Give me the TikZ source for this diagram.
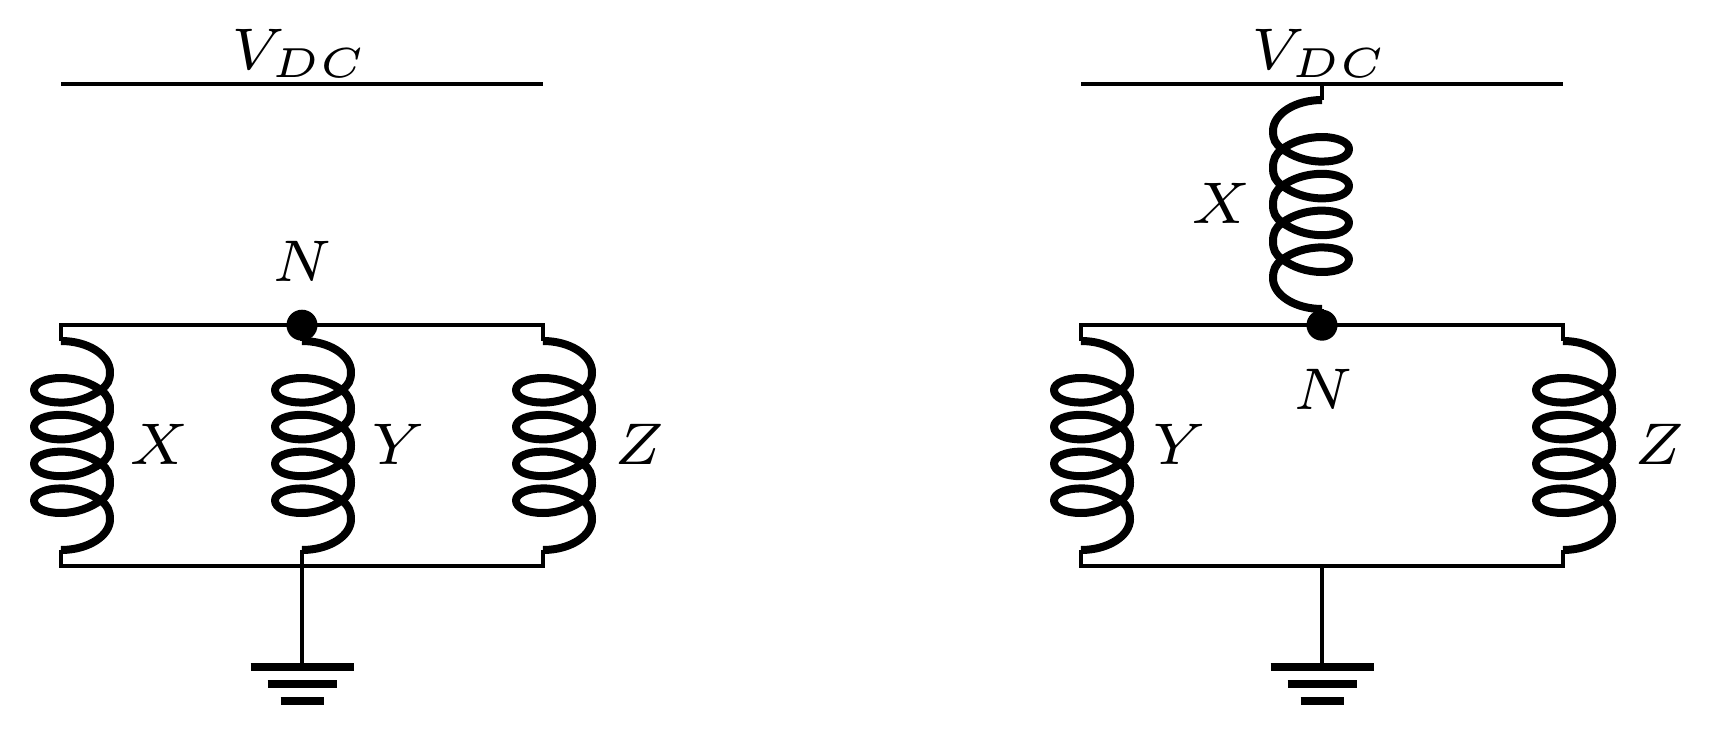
\documentclass[tikz,border=0pt]{standalone}
\tikzset{
  wire/.style={line width=3.9pt,line cap=butt,line join=miter},
  coilline/.style={line width=8pt,line cap=butt,line join=round},
  lab/.style={scale=8.4,inner sep=0pt,outer sep=0pt,font=\scriptsize},
  junction/.style={circle,fill=black,minimum size=31pt,inner sep=0pt},
  coilshape/.pic={
    \draw[coilline] (0,0) .. controls (27,0) and (49,14) .. (49,31)
      \foreach \k in {0,36.8,73.6,110.4}{
        .. controls (49,{39+\k}) and (47,{44+\k}) .. (39.5,{49+\k})
        .. controls (30,{56+\k}) and (16,{61.6+\k}) .. (0,{61.6+\k})
        .. controls (-15,{61.6+\k}) and (-27,{57+\k}) .. (-27,{49+\k})
        .. controls (-27,{42+\k}) and (-15,{37+\k}) .. (0,{37+\k})
        .. controls (16,{37+\k}) and (30,{42+\k}) .. (39.5,{49+\k})
        .. controls (47,{54+\k}) and (49,{60+\k}) .. (49,{67.8+\k})
      }
      .. controls (49,195) and (27,209) .. (0,209);
  },
  groundbars/.pic={
    \draw[line width=8pt] (-51.5,4) -- (51.5,4);
    \draw[line width=8pt] (-34.5,21) -- (34.5,21);
    \draw[line width=8pt] (-21.5,38) -- (21.5,38);
  }
}
\begin{document}
\begin{tikzpicture}[x=1pt,y=-1pt]
\useasboundingbox (0,0) rectangle (1711,733);
% left circuit
\coordinate (aVl) at (61,84.3); \coordinate (aVr) at (543,84.3);
\coordinate (aTL) at (61,325.2); \coordinate (aTR) at (543,325.2);
\coordinate (aBL) at (61,566); \coordinate (aBR) at (543,566);
\coordinate (aBM) at (302,566); \coordinate (aG) at (302,663);
\node[junction] (aN) at (302,325.2) {};
\draw[wire] (aVl) -- (aVr);
\draw[wire] (aBL |- 0,341) -- (aTL) -- (aTR) -- (aBR |- 0,341);
\draw[wire] (aBL |- 0,550) -- (aBL) -- (aBR) -- (aBR |- 0,550);
\draw[wire] (aN.center |- 0,341) -- (aN.center);
\draw[wire] (aBM |- 0,550) -- (aG);
\pic at (61,341) {coilshape};
\pic at (302,341) {coilshape};
\pic at (543,341) {coilshape};
\pic at (aG) {groundbars};
\node[lab] (aV) at (300,53.5) {$V_{DC}$};
\node[lab] (aLN) at (302,261.5) {$N$};
\node[lab] (aLX) at (159.5,444.5) {$X$};
\node[lab] (aLY) at (398,444.5) {$Y$};
\node[lab] (aLZ) at (639,444.5) {$Z$};
% right circuit
\coordinate (bVl) at (1081,84.3); \coordinate (bVr) at (1563,84.3);
\coordinate (bVm) at (1322,84.3);
\coordinate (bTL) at (1081,325.2); \coordinate (bTR) at (1563,325.2);
\coordinate (bBL) at (1081,566); \coordinate (bBR) at (1563,566);
\coordinate (bBM) at (1322,566); \coordinate (bG) at (1322,663);
\node[junction] (bN) at (1322,325.2) {};
\draw[wire] (bVl) -- (bVr);
\draw[wire] (bVm) -- (1322,100);
\draw[wire] (1322,309) -- (bN.center);
\draw[wire] (bBL |- 0,341) -- (bTL) -- (bTR) -- (bBR |- 0,341);
\draw[wire] (bBL |- 0,550) -- (bBL) -- (bBR) -- (bBR |- 0,550);
\draw[wire] (bBM) -- (bG);
\pic[xscale=-1] at (1322,100) {coilshape};
\pic at (1081,341) {coilshape};
\pic at (1563,341) {coilshape};
\pic at (bG) {groundbars};
\node[lab] (bV) at (1320,53.5) {$V_{DC}$};
\node[lab] (bLN) at (1323,389.5) {$N$};
\node[lab] (bLX) at (1221,203) {$X$};
\node[lab] (bLY) at (1179,444.5) {$Y$};
\node[lab] (bLZ) at (1659,444.5) {$Z$};
\end{tikzpicture}
\end{document}
